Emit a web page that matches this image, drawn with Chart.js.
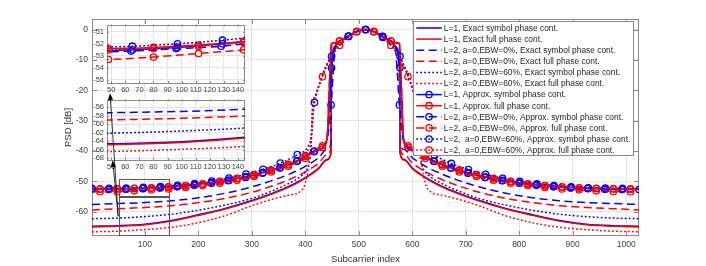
<!DOCTYPE html>
<html><head><meta charset="utf-8">
<script src="https://cdn.jsdelivr.net/npm/chart.js@4.4.1/dist/chart.umd.min.js"></script>
<style>
html,body{margin:0;padding:0;background:#fff;}
#wrap{position:relative;width:706px;height:266px;overflow:hidden;background:#fff;}
canvas{position:absolute;}
</style></head><body>
<div id="wrap">
<canvas id="main" width="706" height="266" style="left:0;top:0"></canvas>
<canvas id="in1" width="164" height="78" style="left:89px;top:17px"></canvas>
<canvas id="in2" width="164" height="80" style="left:89px;top:92px"></canvas>
<canvas id="over" width="706" height="266" style="left:0;top:0"></canvas>
</div>
<script>
// ---------------- data ----------------
const LABELS = [
 'L=1, Exact symbol phase cont.',
 'L=1, Exact full phase cont.',
 'L=2, a=0,EBW=0%, Exact symbol phase cont.',
 'L=2, a=0,EBW=0%, Exact full phase cont.',
 'L=2, a=0,EBW=60%, Exact symbol phase cont.',
 'L=2, a=0,EBW=60%, Exact full phase cont.',
 'L=1, Approx. symbol phase cont.',
 'L=1, Approx. full phase cont.',
 'L=2, a=0,EBW=0%, Approx. symbol phase cont.',
 'L=2, a=0,EBW=0%, Approx. full phase cont.',
 'L=2,  a=0,EBW=60%, Approx. symbol phase cont.',
 'L=2,  a=0,EBW=60%, Approx. full phase cont.'
];
const X_TICKS_MAIN = [100,200,300,400,500,600,700,800,900,1000];

const X_EX = [1,50,100,150,200,250,300,340,370,390,410,425,440,448,449,456,464,472,480,488,496,504,512,520,528,536,544,552,560,568,576,577,585,600,615,635,655,685,725,775,825,875,925,975,1024];
const Y_L1_EX_SYM = [-64.8,-64.6,-64.1,-62.9,-61.0,-58.9,-56.3,-53.8,-51.6,-49.8,-47.6,-45.6,-42.8,-40.5,-12.0,-5.5,-3.8,-3.0,-2.2,-1.4,-0.7,-0.2,0,-0.2,-0.7,-1.4,-2.2,-3.0,-3.8,-5.5,-12.0,-40.5,-42.8,-45.6,-47.6,-49.8,-51.6,-53.8,-56.3,-58.9,-61.0,-62.9,-64.1,-64.6,-64.8];
const Y_L1_EX_FULL = [-65.0,-64.8,-64.3,-63.1,-61.2,-59.1,-56.5,-54.0,-51.8,-50.0,-47.8,-45.8,-43.0,-40.7,-4.6,-4.3,-3.8,-3.0,-2.2,-1.4,-0.7,-0.2,0,-0.2,-0.7,-1.4,-2.2,-3.0,-3.8,-4.3,-4.6,-40.7,-43.0,-45.8,-47.8,-50.0,-51.8,-54.0,-56.5,-59.1,-61.2,-63.1,-64.3,-64.8,-65.0];
const Y_E0_EX_SYM = [-57.6,-57.3,-57.0,-56.4,-55.4,-53.9,-51.8,-49.6,-47.6,-46.0,-44.0,-42.2,-39.5,-37.5,-12.0,-5.5,-3.8,-3.0,-2.2,-1.4,-0.7,-0.2,0,-0.2,-0.7,-1.4,-2.2,-3.0,-3.8,-5.5,-12.0,-37.5,-39.5,-42.2,-44.0,-46.0,-47.6,-49.6,-51.8,-53.9,-55.4,-56.4,-57.0,-57.3,-57.6];
const Y_E0_EX_FULL = [-59.4,-59.0,-58.6,-58.0,-57.0,-55.6,-53.6,-51.4,-49.4,-47.8,-45.8,-44.0,-41.2,-39.0,-4.6,-4.3,-3.8,-3.0,-2.2,-1.4,-0.7,-0.2,0,-0.2,-0.7,-1.4,-2.2,-3.0,-3.8,-4.3,-4.6,-39.0,-41.2,-44.0,-45.8,-47.8,-49.4,-51.4,-53.6,-55.6,-57.0,-58.0,-58.6,-59.0,-59.4];

const X_W = [1,50,100,150,200,250,300,340,370,390,400,406,411,413,420,428,436,444,452,460,470,480,490,500,512,524,534,544,554,564,572,580,588,596,604,611,613,618,624,634,654,684,724,774,824,874,924,974,1024];
const Y_E60_EX_SYM = [-62.3,-62.1,-61.6,-60.8,-59.5,-57.8,-55.6,-53.0,-50.6,-48.5,-46.8,-44.5,-38.0,
 -27,-21.5,-17,-13.2,-10.2,-7.7,-5.8,-4.0,-2.4,-1.1,-0.3, 0,
 -0.3,-1.1,-2.4,-4.0,-5.8,-7.7,-10.2,-13.2,-17,-21.5,-27,
 -38.0,-44.5,-46.8,-48.5,-50.6,-53.0,-55.6,-57.8,-59.5,-60.8,-61.6,-62.1,-62.3];
const Y_E60_EX_FULL = [-66.6,-66.4,-65.9,-65.1,-63.6,-61.3,-58.0,-55.8,-54.5,-53.4,-50.5,-45.0,-36.0,
 -27,-21.5,-17.2,-13.4,-10.4,-7.9,-5.9,-4.1,-2.5,-1.2,-0.3, 0,
 -0.3,-1.2,-2.5,-4.1,-5.9,-7.9,-10.4,-13.4,-17.2,-21.5,-27,
 -36.0,-45.0,-50.5,-53.4,-54.5,-55.8,-58.0,-61.3,-63.6,-65.1,-65.9,-66.4,-66.6];

const XA_S1 = [1,33,65,97,129,161,193,225,257,289,321,353,385,417,440,449,456,464,472,481,490,500,513,524,534,545,552,560,568,577,584,609,641,673,705,737,769,801,833,865,897,929,961,993,1024];
const Y_L1_AP_SYM = [-52.6,-52.6,-52.5,-52.3,-52.0,-51.6,-51.1,-50.4,-49.6,-48.5,-47.1,-45.5,-43.3,-40.0,
 -36.5,-12.6,-5.5,-3.8,-3.0,-2.1,-1.2,-0.4, 0, -0.4,-1.2,-2.3,-3.0,-3.8,-5.5,-12.6,-36.5,
 -40.2,-43.4,-45.6,-47.2,-48.6,-49.7,-50.5,-51.1,-51.6,-52.0,-52.3,-52.5,-52.6, -52.6];

const XA_F = [1,16,48,80,112,144,176,208,240,272,304,336,368,400,432,440,449,456,464,472,480,488,496,504,512,520,528,536,544,552,560,568,576,584,592,624,656,688,720,752,784,816,848,880,912,944,976,1008,1024];
const Y_L1_AP_FULL = [-52.5,-52.5,-52.4,-52.3,-52.1,-51.8,-51.4,-50.8,-50.0,-49.0,-47.8,-46.3,-44.4,-41.8,-38.3,
 -36.5,-4.6,-4.3,-3.8,-3.0,-2.2,-1.4,-0.7,-0.2, 0, -0.2,-0.7,-1.4,-2.2,-3.0,-3.8,-4.3,-4.6,-36.5,
 -38.3,-41.8,-44.4,-46.3,-47.8,-49.0,-50.0,-50.8,-51.4,-51.8,-52.1,-52.3,-52.4,-52.5, -52.5];
const Y_E0_AP_FULL = [-53.4,-53.4,-53.3,-53.1,-52.8,-52.5,-52.0,-51.4,-50.6,-49.6,-48.4,-46.9,-45.0,-42.4,-38.8,
 -37.0,-4.6,-4.3,-3.8,-3.0,-2.2,-1.4,-0.7,-0.2, 0, -0.2,-0.7,-1.4,-2.2,-3.0,-3.8,-4.3,-4.6,-37.0,
 -38.8,-42.4,-45.0,-46.9,-48.4,-49.6,-50.6,-51.4,-52.0,-52.5,-52.8,-53.1,-53.3,-53.4, -53.4];

const XA_S0 = [1,32,64,96,128,160,192,224,256,288,320,352,384,416,440,448,456,464,472,480,490,500,512,524,534,544,552,560,568,576,584,608,640,672,704,736,768,800,832,864,896,928,960,992,1024];
const Y_E0_AP_SYM = [-52.7,-52.7,-52.6,-52.4,-52.2,-51.8,-51.3,-50.6,-49.8,-48.7,-47.3,-45.6,-43.4,-40.2,
 -36.8,-24.8,-6.0,-3.9,-3.0,-2.2,-1.2,-0.4, 0, -0.4,-1.2,-2.2,-3.0,-3.9,-6.0,-24.8,-36.8,
 -40.2,-43.4,-45.6,-47.3,-48.7,-49.8,-50.6,-51.3,-51.8,-52.2,-52.4,-52.6,-52.7, -52.7];

const XA_W1 = [1,33,65,97,129,161,193,225,257,289,321,353,385,405,411,417,420,428,436,444,449,460,470,481,490,500,513,524,534,545,554,564,577,580,588,596,604,609,613,619,641,673,705,737,769,801,833,865,897,929,961,993,1024];
const Y_E60_AP_SYM = [-52.3,-52.3,-52.2,-52.0,-51.7,-51.3,-50.7,-49.9,-48.9,-47.6,-46.0,-44.0,-41.2,
 -38.5,-35.5,
 -24.0,-21.5,-17.0,-13.2,-10.2,-8.8,-5.8,-4.0,-2.3,-1.1,-0.3, 0,
 -0.3,-1.1,-2.6,-4.0,-5.8,-8.8,-10.2,-13.2,-17.0,-21.5,-24.0,
 -35.5,-38.5,
 -41.3,-44.1,-46.1,-47.7,-49.0,-50.0,-50.8,-51.4,-51.8,-52.1,-52.2,-52.3, -52.3];

const XA_W2 = [1,16,48,80,112,144,176,208,240,272,304,336,368,400,406,411,416,420,428,432,440,448,456,464,472,480,488,496,504,512,520,528,536,544,552,560,568,576,584,592,600,604,608,613,618,624,656,688,720,752,784,816,848,880,912,944,976,1008,1024];
const Y_E60_AP_FULL = [-52.6,-52.6,-52.5,-52.4,-52.2,-51.9,-51.5,-50.9,-50.1,-49.1,-47.9,-46.4,-44.5,-41.5,
 -39.0,-35.0,
 -24.5,-21.5,-17.2,-15.5,-12.0,-9.2,-7.0,-5.2,-3.8,-2.5,-1.4,-0.6,-0.15, 0,
 -0.15,-0.6,-1.4,-2.5,-3.8,-5.2,-7.0,-9.2,-12.0,-15.5,-19.5,-21.5,-24.5,
 -35.0,-39.0,
 -41.5,-44.5,-46.4,-47.9,-49.1,-50.1,-50.9,-51.5,-51.9,-52.2,-52.4,-52.5,-52.6, -52.6];

// zoom rectangles and arrows, in main-axes data units
const RECT_X = [52, 145];
const RECT_TOP_Y = [-54.8, -49.2];
const RECT_BOT_Y = [-67.7, -55.2];
const ARROW_FROM = [[50, -61.5], [50, -61.5]];
const ARROW_TO = [[34.7, -20.9], [39.5, -43.0]];

// ---------------- styles ----------------
const FAM = "'Liberation Sans', Arial, Helvetica, sans-serif";
Chart.defaults.font.family = FAM;
const BLUE = '#0000ff', RED = '#ff0000';
const SOLID = [], DASH = [8, 4.5], DOT = [1.8, 2.2];
const SPECS = [
 {xs: X_EX, ys: Y_L1_EX_SYM, c: BLUE, d: SOLID, mk: null},
 {xs: X_EX, ys: Y_L1_EX_FULL, c: RED, d: SOLID, mk: null},
 {xs: X_EX, ys: Y_E0_EX_SYM, c: BLUE, d: DASH, mk: null},
 {xs: X_EX, ys: Y_E0_EX_FULL, c: RED, d: DASH, mk: null},
 {xs: X_W, ys: Y_E60_EX_SYM, c: BLUE, d: DOT, mk: null},
 {xs: X_W, ys: Y_E60_EX_FULL, c: RED, d: DOT, mk: null},
 {xs: XA_S1, ys: Y_L1_AP_SYM, c: BLUE, d: SOLID, mk: 1},
 {xs: XA_F, ys: Y_L1_AP_FULL, c: RED, d: SOLID, mk: 16},
 {xs: XA_S0, ys: Y_E0_AP_SYM, c: BLUE, d: DASH, mk: 0},
 {xs: XA_F, ys: Y_E0_AP_FULL, c: RED, d: DASH, mk: 16},
 {xs: XA_W1, ys: Y_E60_AP_SYM, c: BLUE, d: DOT, mk: 1},
 {xs: XA_W2, ys: Y_E60_AP_FULL, c: RED, d: DOT, mk: 16}
];
const MK_R = 3.2;

function makeDatasets() {
  return SPECS.map((s, i) => ({
    label: LABELS[i],
    data: s.xs.map((x, k) => ({x: x, y: s.ys[k]})),
    borderColor: s.c,
    borderWidth: 1.5,
    borderDash: s.d,
    fill: false,
    cubicInterpolationMode: 'monotone',
    pointStyle: 'circle',
    pointRadius: (ctx) => (s.mk !== null && ctx.raw && ((ctx.raw.x - s.mk) % 32 === 0)) ? MK_R : 0,
    pointBorderColor: s.c,
    pointBackgroundColor: 'rgba(0,0,0,0)',
    pointBorderWidth: 1.3,
    order: SPECS.length - 1 - i
  }));
}

const GRID = '#e4e4e4', BOX = '#8a8a8a', TXT = '#404040';

const frameP = {
  id: 'frame',
  beforeDraw(chart, args, o) {
    if (!o.bg) return;
    const a = chart.chartArea, ctx = chart.ctx;
    ctx.save(); ctx.fillStyle = '#fff';
    ctx.fillRect(a.left, a.top, a.right - a.left, a.bottom - a.top);
    ctx.restore();
  },
  beforeDatasetsDraw(chart, args, o) {
    const {ctx, chartArea: a, scales: {x, y}} = chart;
    ctx.save();
    ctx.strokeStyle = BOX; ctx.lineWidth = 1;
    ctx.beginPath();
    x.ticks.forEach(t => { const p = Math.round(x.getPixelForValue(t.value)) + 0.5;
      ctx.moveTo(p, a.bottom); ctx.lineTo(p, a.bottom - o.len);
      ctx.moveTo(p, a.top); ctx.lineTo(p, a.top + o.len); });
    y.ticks.forEach(t => { const p = Math.round(y.getPixelForValue(t.value)) + 0.5;
      ctx.moveTo(a.left, p); ctx.lineTo(a.left + o.len, p);
      ctx.moveTo(a.right, p); ctx.lineTo(a.right - o.len, p); });
    ctx.stroke();
    ctx.strokeRect(Math.round(a.left) + 0.5, Math.round(a.top) + 0.5, Math.round(a.right - a.left) - 1, Math.round(a.bottom - a.top) - 1);
    ctx.restore();
  }
};

const rectP = {
  id: 'rects',
  afterDatasetsDraw(chart) {
    const {ctx, scales: {x, y}} = chart;
    ctx.save(); ctx.strokeStyle = '#555'; ctx.lineWidth = 1;
    [RECT_TOP_Y, RECT_BOT_Y].forEach(r => {
      const x0 = Math.round(x.getPixelForValue(RECT_X[0])) + 0.5, x1 = Math.round(x.getPixelForValue(RECT_X[1])) + 0.5;
      const y0 = Math.round(y.getPixelForValue(r[1])) + 0.5, y1 = Math.round(y.getPixelForValue(r[0])) + 0.5;
      ctx.strokeRect(x0, y0, x1 - x0, y1 - y0);
    });
    ctx.restore();
  }
};

const legendP = {
  id: 'mlegend',
  afterDraw(chart) {
    const {ctx, chartArea: a} = chart;
    ctx.save();
    ctx.font = '8.4px ' + FAM;
    let tw = 0; LABELS.forEach(l => { tw = Math.max(tw, ctx.measureText(l).width); });
    const right = a.right - 5.7, top = a.top + 1.7;
    const left = right - (31 + tw + 3);
    const rowH = 11.1, first = top + 7.3;
    const bottom = first + rowH * (LABELS.length - 1) + 5;
    ctx.fillStyle = '#fff'; ctx.fillRect(left, top, right - left, bottom - top);
    ctx.strokeStyle = BOX; ctx.lineWidth = 1;
    ctx.strokeRect(Math.round(left) + 0.5, Math.round(top) + 0.5, Math.round(right - left), Math.round(bottom - top));
    SPECS.forEach((s, i) => {
      const yy = first + i * rowH;
      ctx.strokeStyle = s.c; ctx.lineWidth = 1.5; ctx.setLineDash(s.d);
      ctx.beginPath(); ctx.moveTo(left + 3.4, yy); ctx.lineTo(left + 29, yy); ctx.stroke();
      ctx.setLineDash([]);
      if (s.mk !== null) { ctx.lineWidth = 1.3; ctx.beginPath(); ctx.arc(left + 16.2, yy, MK_R, 0, Math.PI * 2); ctx.stroke(); }
      ctx.fillStyle = '#262626'; ctx.textBaseline = 'middle'; ctx.textAlign = 'left';
      ctx.fillText(LABELS[i], left + 31, yy + 0.5);
    });
    ctx.restore();
  }
};

const tickCb = v => String(v);

// ---------------- main chart ----------------
const mainChart = new Chart(document.getElementById('main'), {
  type: 'line',
  data: {datasets: makeDatasets()},
  options: {
    responsive: false, animation: false, devicePixelRatio: 1, events: [],
    layout: {padding: {left: 62.3, right: 67, top: 19, bottom: 0}},
    plugins: {legend: {display: false}, tooltip: {enabled: false}, frame: {len: 5, bg: false}},
    scales: {
      x: {type: 'linear', min: 1, max: 1024,
          afterBuildTicks: s => { s.ticks = X_TICKS_MAIN.map(v => ({value: v})); },
          ticks: {callback: tickCb, font: {size: 8.5}, color: TXT, padding: 4, maxRotation: 0, autoSkip: false},
          grid: {color: GRID, lineWidth: 1, drawTicks: false}, border: {display: false},
          title: {display: true, text: 'Subcarrier index', font: {size: 9.5}, color: '#333', padding: {top: 0, bottom: 1.3}},
          afterFit: s => { s.height = 30; }},
      y: {type: 'linear', min: -68, max: 3.5,
          ticks: {stepSize: 10, includeBounds: false, callback: tickCb, font: {size: 8.5}, color: TXT, padding: 4, autoSkip: false},
          grid: {color: GRID, lineWidth: 1, drawTicks: false}, border: {display: false},
          title: {display: true, text: 'PSD [dB]', font: {size: 9.5}, color: '#333', padding: {top: 0, bottom: 0}},
          afterFit: s => { s.width = 92 - 62.3; }}
    }
  },
  plugins: [frameP, rectP, legendP]
});

// ---------------- insets ----------------
function inset(id, ymin, ymax, ystep) {
  return new Chart(document.getElementById(id), {
    type: 'line',
    data: {datasets: makeDatasets()},
    options: {
      responsive: false, animation: false, devicePixelRatio: 1, events: [],
      layout: {padding: {left: 0, right: 8, top: 2, bottom: 0}},
      plugins: {legend: {display: false}, tooltip: {enabled: false}, frame: {len: 2, bg: true}},
      scales: {
        x: {type: 'linear', min: 47, max: 145,
            ticks: {stepSize: 10, includeBounds: false, callback: tickCb, font: {size: 7.5}, color: TXT, padding: 2, maxRotation: 0, autoSkip: false},
            grid: {color: GRID, drawTicks: false}, border: {display: false},
            afterFit: s => { s.height = 12; }},
        y: {type: 'linear', min: ymin, max: ymax,
            ticks: {stepSize: ystep, includeBounds: false, callback: tickCb, font: {size: 7.5}, color: TXT, padding: 3, autoSkip: false},
            grid: {color: GRID, drawTicks: false}, border: {display: false},
            afterFit: s => { s.width = 18; }}
      }
    },
    plugins: [frameP]
  });
}
inset('in1', -55.25, -50.4, 1);
inset('in2', -68.4, -54.2, 2);

// ---------------- arrows (overlay) ----------------
(function () {
  const c = document.getElementById('over').getContext('2d');
  const sx = mainChart.scales.x, sy = mainChart.scales.y;
  c.strokeStyle = '#000'; c.fillStyle = '#000'; c.lineWidth = 0.8;
  ARROW_FROM.forEach((f, i) => {
    const t = ARROW_TO[i];
    const x0 = sx.getPixelForValue(f[0]), y0 = sy.getPixelForValue(f[1]);
    const x1 = sx.getPixelForValue(t[0]), y1 = sy.getPixelForValue(t[1]);
    const ang = Math.atan2(y1 - y0, x1 - x0), L = 7, W = 2.6;
    const bx = x1 - L * Math.cos(ang), by = y1 - L * Math.sin(ang);
    c.beginPath(); c.moveTo(x0, y0); c.lineTo(bx, by); c.stroke();
    c.beginPath(); c.moveTo(x1, y1);
    c.lineTo(bx + W * Math.sin(ang), by - W * Math.cos(ang));
    c.lineTo(bx - W * Math.sin(ang), by + W * Math.cos(ang));
    c.closePath(); c.fill();
  });
})();
</script>
</body></html>
